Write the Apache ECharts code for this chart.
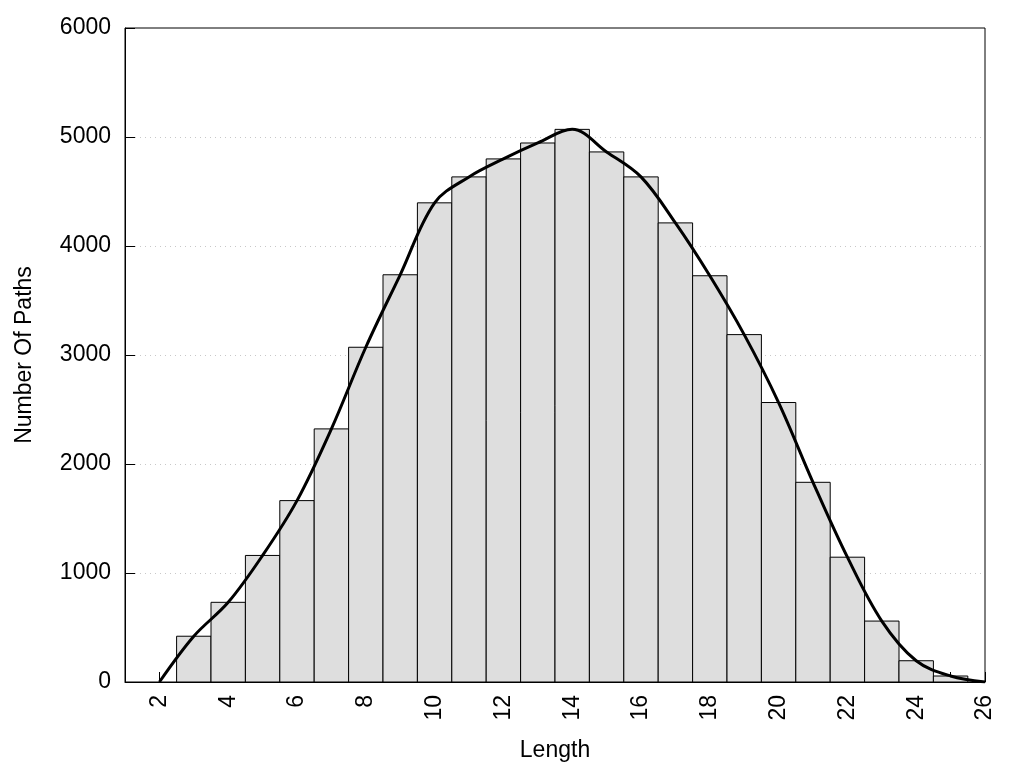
<!DOCTYPE html>
<html>
<head>
<meta charset="utf-8">
<script src="https://cdn.jsdelivr.net/npm/echarts@6/dist/echarts.min.js"></script>
<style>html,body{margin:0;padding:0;background:#fff;}#c{width:1024px;height:768px;}</style>
</head>
<body>
<div id="c"></div>
<script>
// Histogram bins (path length) and counts
var lengths = [3,4,5,6,7,8,9,10,11,12,13,14,15,16,17,18,19,20,21,22,23,24,25];
var counts  = [420,731,1161,1664,2322,3071,3736,4396,4634,4799,4945,5070,4863,4634,4212,3727,3187,2564,1832,1145,559,195,55];
// Smoothed curve points
var curveX = [2,3,4,5,6,7,8,9,10,11,12,13,14,15,16,17,18,19,20,21,22,23,24,25,26];
var curveY = [0,420,731,1161,1664,2322,3071,3736,4396,4634,4799,4945,5070,4863,4634,4212,3727,3187,2564,1832,1145,559,195,55,0];
// Axis ticks
var yTicks = [0,1000,2000,3000,4000,5000,6000];

var barData = lengths.map(function(x,i){return [x, counts[i]];});
var lineData = curveX.map(function(x,i){return [x, curveY[i]];});

var font = 'Liberation Sans, Arial, sans-serif';
var chart = echarts.init(document.getElementById('c'), null, {renderer:'canvas'});
chart.setOption({
  animation:false,
  backgroundColor:'#fff',
  grid:{left:125, right:39, top:28, bottom:86, show:true, borderColor:'#000', borderWidth:1, backgroundColor:'transparent', containLabel:false},
  xAxis:{
    type:'value', min:1, max:26, interval:1,
    name:'Length', nameLocation:'middle', nameGap:57,
    nameTextStyle:{fontFamily:font, fontSize:23, color:'#000'},
    axisLine:{show:true, onZero:false, lineStyle:{color:'#000', width:1}},
    axisTick:{show:true, inside:true, length:10, lineStyle:{color:'#000'}},
    axisLabel:{rotate:90, margin:13, fontFamily:font, fontSize:23, color:'#000',
      formatter:function(v){return (v%2===0)? String(v) : '';}},
    splitLine:{show:false}
  },
  yAxis:{
    type:'value', min:yTicks[0], max:yTicks[yTicks.length-1], interval:1000,
    name:'Number Of Paths', nameLocation:'middle', nameGap:89,
    nameTextStyle:{fontFamily:font, fontSize:23, color:'#000'},
    axisLine:{show:true, lineStyle:{color:'#000', width:1}},
    axisTick:{show:true, inside:true, length:10, lineStyle:{color:'#000'}},
    axisLabel:{margin:14, fontFamily:font, fontSize:23, color:'#000',
      formatter:function(v){return String(v);}},
    splitLine:{show:true, showMinLine:false, showMaxLine:false, lineStyle:{color:'#c8c8c8', type:[1,4], width:1}}
  },
  series:[
    {
      type:'custom',
      data:barData,
      z:2,
      renderItem:function(params, api){
        var x = api.value(0), y = api.value(1);
        var p0 = api.coord([x-0.5, y]);
        var p1 = api.coord([x+0.5, 0]);
        return {
          type:'rect',
          shape:{x:p0[0], y:p0[1], width:p1[0]-p0[0], height:p1[1]-p0[1]},
          style:{fill:'#dedede', stroke:'#000', lineWidth:1}
        };
      }
    },
    {
      type:'line',
      data:lineData,
      z:3,
      smooth:0.35,
      showSymbol:false,
      symbol:'none',
      lineStyle:{color:'#000', width:3}
    }
  ]
});
</script>
</body>
</html>
